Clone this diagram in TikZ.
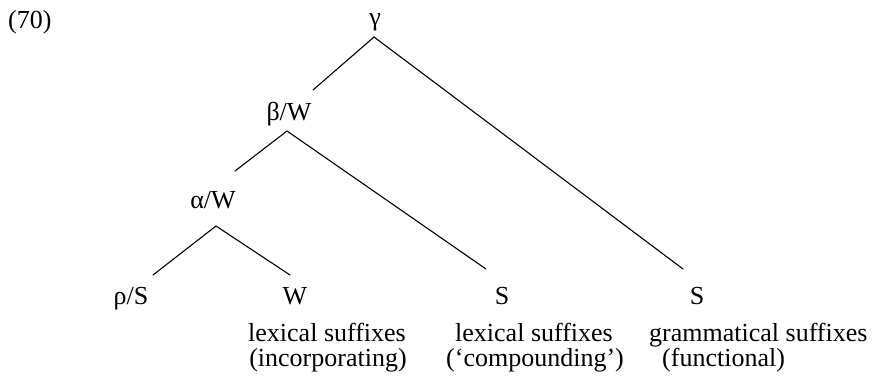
\documentclass[tikz,border=0pt]{standalone}
\usepackage{fontspec}
\setmainfont{Liberation Serif}
\begin{document}
\begin{tikzpicture}[x=1pt,y=-1pt,
  lab/.style={anchor=base,inner sep=0pt,font=\fontsize{26}{28}\selectfont},
  edge/.style={line width=1.1pt,line cap=round}]
\useasboundingbox (0,0) rectangle (872,381);
% example number
\node[lab,anchor=base west] (num) at (8,28) {(70)};
% tree nodes
\node[lab] (gamma) at (375,25) {γ};
\node[lab] (beta) at (289,120) {β/W};
\node[lab] (alpha) at (213,208) {α/W};
\node[lab] (rho) at (131,304) {ρ/S};
\node[lab] (w) at (295,304) {W};
\node[lab] (s1) at (502,304) {S};
\node[lab] (s2) at (697,304) {S};
% labels
\node[lab] (l1a) at (327,341) {lexical suffixes};
\node[lab] (l1b) at (328,366) {(incorporating)};
\node[lab] (l2a) at (534,341) {lexical suffixes};
\node[lab] (l2b) at (535,366) {(‘compounding’)};
\node[lab,anchor=base west] (l3a) at (649,341) {grammatical suffixes};
\node[lab,anchor=base west] (l3b) at (662,366) {(functional)};
% branch points
\coordinate (ga) at (374,37);
\coordinate (gl) at (313,90);
\coordinate (gr) at (683,269);
\coordinate (ba) at (287,131);
\coordinate (bl) at (235,171);
\coordinate (br) at (486,269);
\coordinate (aa) at (216,226);
\coordinate (al) at (153,275);
\coordinate (ar) at (290,275);
\draw[edge] (gl) -- (ga) -- (gr);
\draw[edge] (bl) -- (ba) -- (br);
\draw[edge] (al) -- (aa) -- (ar);
\end{tikzpicture}
\end{document}
